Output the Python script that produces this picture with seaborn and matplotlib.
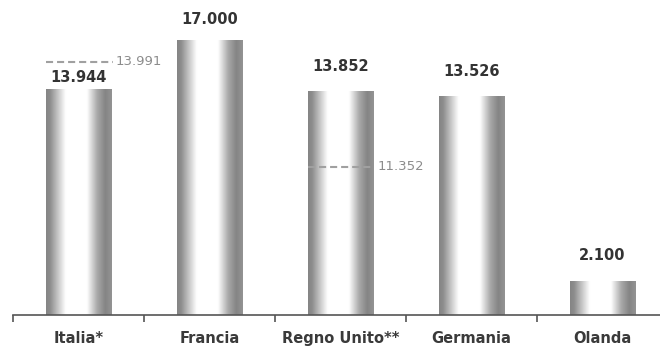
import numpy as np
import seaborn as sns
import matplotlib.pyplot as plt

# data
countries = ['Italia*', 'Francia', 'Regno Unito**', 'Germania', 'Olanda']
values = [13944, 17000, 13852, 13526, 2100]
value_labels = ['13.944', '17.000', '13.852', '13.526', '2.100']

# dashed reference markers (label, level as drawn on the chart)
ref_index = [0, 2]
ref_labels = ['13.991', '11.352']
ref_levels = [15640, 9150]

sns.set_style('white')
plt.rcParams['font.family'] = ['DejaVu Sans']

fig = plt.figure(figsize=(6.6, 3.47), dpi=100)
ax = fig.add_axes([13 / 660, 32 / 347, 647 / 660, 315 / 347])

sns.barplot(x=countries, y=values, width=0.5, color='white', saturation=1,
            edgecolor='none', ax=ax)

ax.set_xlim(-0.5, 4.44)
ax.set_ylim(0, 19470)

# cylinder-like shading inside each bar
t = np.linspace(0, 1, 200)
shade = np.interp(t, [0, 0.06, 0.14, 0.3, 0.62, 0.78, 0.9, 1.0],
                  [0.52, 0.55, 0.7, 1.0, 1.0, 0.66, 0.52, 0.58])
grad = np.tile(shade, (2, 1))
for p in ax.patches:
    x0, y0 = p.get_x(), p.get_y()
    w, h = p.get_width(), p.get_height()
    im = ax.imshow(grad, cmap='gray', vmin=0, vmax=1, aspect='auto',
                   extent=(x0, x0 + w, y0, y0 + h), interpolation='bilinear',
                   zorder=2)
    im.set_clip_path(p)

# value labels above bars
label_gap_px = [12, 20, 24, 25, 26]
for i, (v, lab) in enumerate(zip(values, value_labels)):
    ax.annotate(lab, (i, v), xytext=(0, label_gap_px[i] * 0.72),
                textcoords='offset points', ha='center', va='center',
                fontsize=10.5, fontweight='bold', color='#333333')

# dashed reference lines
for i, lab, lev in zip(ref_index, ref_labels, ref_levels):
    ax.plot([i - 0.25, i + 0.26], [lev, lev], ls=(0, (3.4, 1.9)), lw=1.5,
            color='#a0a0a0', zorder=3)
    ax.text(i + 0.28, lev, lab, ha='left', va='center', fontsize=9.5,
            color='#8c8c8c')

# axis styling
for s in ['top', 'right', 'left']:
    ax.spines[s].set_visible(False)
ax.spines['bottom'].set_color('#555555')
ax.spines['bottom'].set_linewidth(1.2)
ax.set_yticks([])
ax.set_xticks(range(len(countries)))
ax.set_xticklabels(countries, fontsize=10.5, fontweight='bold', color='#3a3a3a')
for lbl in ax.get_xticklabels():
    lbl.set_verticalalignment('baseline')
ax.tick_params(axis='x', length=0, pad=20)
ax.set_xticks(np.arange(-0.5, 4.5, 1), minor=True)
ax.tick_params(axis='x', which='minor', bottom=True, length=5, width=1.2,
               color='#555555', direction='out')
ax.set_xlabel('')
ax.set_ylabel('')

fig.savefig('out.png', dpi=100)
